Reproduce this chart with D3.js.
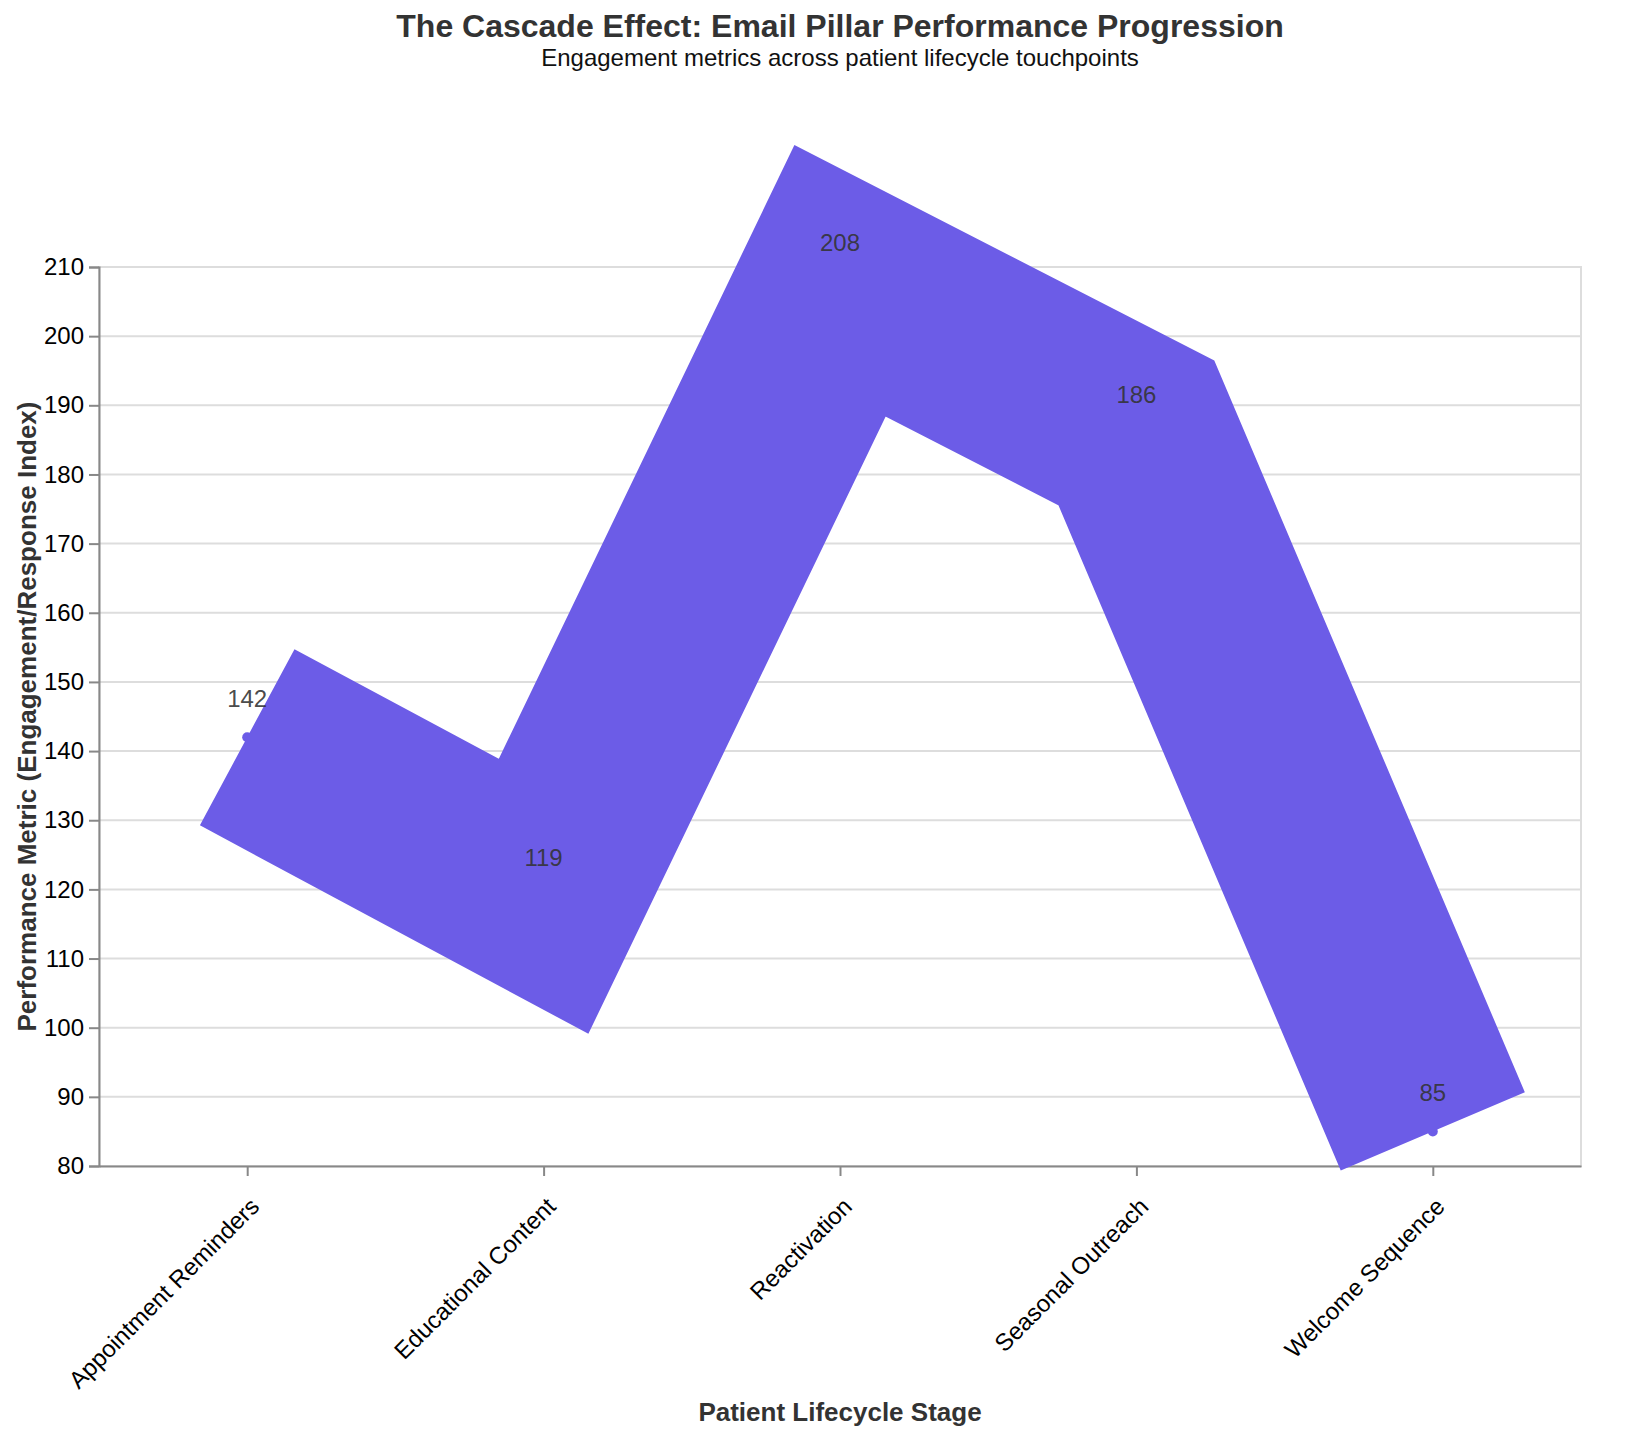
<!DOCTYPE html>
<html>
<head>
<meta charset="utf-8">
<script src="https://cdn.jsdelivr.net/npm/d3@7"></script>
<style>
  body { margin: 0; background: #fff; }
  text { font-family: "Liberation Sans", Arial, sans-serif; }
</style>
</head>
<body>
<div id="chart"></div>
<script>
const stages = ["Appointment Reminders", "Educational Content", "Reactivation", "Seasonal Outreach", "Welcome Sequence"];
const metric = [142, 119, 208, 186, 85];
const yTicks = [80, 90, 100, 110, 120, 130, 140, 150, 160, 170, 180, 190, 200, 210];

const width = 1642, height = 1438;
const margin = { top: 267, right: 61, bottom: 272, left: 99 };
const innerW = width - margin.left - margin.right;
const innerH = height - margin.top - margin.bottom;
const purple = "#6c5ce7";

const data = stages.map((s, i) => ({ stage: s, value: metric[i] }));

const svg = d3.select("#chart").append("svg")
    .attr("width", width)
    .attr("height", height);

const x = d3.scalePoint()
    .domain(stages)
    .range([0, innerW])
    .padding(0.5);

const y = d3.scaleLinear()
    .domain([80, 210])
    .range([innerH, 0]);

const g = svg.append("g")
    .attr("transform", `translate(${margin.left},${margin.top})`);

// grid
g.append("g")
    .selectAll("line")
    .data(yTicks)
    .join("line")
    .attr("x1", 0)
    .attr("x2", innerW)
    .attr("y1", d => y(d))
    .attr("y2", d => y(d))
    .attr("stroke", "#ddd")
    .attr("stroke-width", 2);

// view border
g.append("rect")
    .attr("width", innerW)
    .attr("height", innerH)
    .attr("fill", "none")
    .attr("stroke", "#ddd")
    .attr("stroke-width", 2);

// y axis
const yAxis = g.append("g")
    .call(d3.axisLeft(y).tickValues(yTicks).tickSize(10).tickPadding(5));
yAxis.select(".domain").attr("stroke", "#888").attr("stroke-width", 2);
yAxis.selectAll(".tick line").attr("stroke", "#888").attr("stroke-width", 2);
yAxis.selectAll(".tick text")
    .attr("font-size", 24)
    .attr("fill", "#000")
    .style("font-family", "Liberation Sans, Arial, sans-serif");

// x axis
const xAxis = g.append("g")
    .attr("transform", `translate(0,${innerH})`)
    .call(d3.axisBottom(x).tickSize(10).tickSizeOuter(0));
xAxis.select(".domain").attr("stroke", "#888").attr("stroke-width", 2);
xAxis.selectAll(".tick line").attr("stroke", "#888").attr("stroke-width", 2);
xAxis.selectAll(".tick text")
    .attr("font-size", 24)
    .attr("fill", "#000")
    .style("font-family", "Liberation Sans, Arial, sans-serif")
    .attr("text-anchor", "end")
    .attr("y", 0)
    .attr("dy", 0)
    .attr("transform", "translate(13,42) rotate(-45)");

// points
g.selectAll(".pt")
    .data(data)
    .join("circle")
    .attr("class", "pt")
    .attr("cx", d => x(d.stage))
    .attr("cy", d => y(d.value))
    .attr("r", 5)
    .attr("fill", purple);

// thick line
const line = d3.line()
    .x(d => x(d.stage))
    .y(d => y(d.value));

g.append("path")
    .datum(data)
    .attr("d", line)
    .attr("fill", "none")
    .attr("stroke", purple)
    .attr("stroke-width", 200)
    .attr("stroke-linecap", "butt")
    .attr("stroke-linejoin", "miter")
    .attr("stroke-miterlimit", 10);

// value labels
g.selectAll(".lbl")
    .data(data)
    .join("text")
    .attr("class", "lbl")
    .attr("x", d => x(d.stage))
    .attr("y", d => y(d.value) - 30)
    .attr("text-anchor", "middle")
    .attr("font-size", 24)
    .attr("fill", "#333")
    .attr("fill-opacity", 0.9)
    .text(d => d.value);

// titles
svg.append("text")
    .attr("x", margin.left + innerW / 2)
    .attr("y", 37)
    .attr("text-anchor", "middle")
    .attr("font-size", 32)
    .attr("font-weight", "bold")
    .attr("fill", "#333")
    .text("The Cascade Effect: Email Pillar Performance Progression");

svg.append("text")
    .attr("x", margin.left + innerW / 2)
    .attr("y", 66)
    .attr("text-anchor", "middle")
    .attr("font-size", 24)
    .attr("fill", "#111")
    .text("Engagement metrics across patient lifecycle touchpoints");

svg.append("text")
    .attr("transform", `translate(36,${margin.top + innerH / 2}) rotate(-90)`)
    .attr("text-anchor", "middle")
    .attr("font-size", 26)
    .attr("font-weight", "bold")
    .attr("fill", "#333")
    .text("Performance Metric (Engagement/Response Index)");

svg.append("text")
    .attr("x", margin.left + innerW / 2)
    .attr("y", 1421)
    .attr("text-anchor", "middle")
    .attr("font-size", 26)
    .attr("font-weight", "bold")
    .attr("fill", "#333")
    .text("Patient Lifecycle Stage");
</script>
</body>
</html>
